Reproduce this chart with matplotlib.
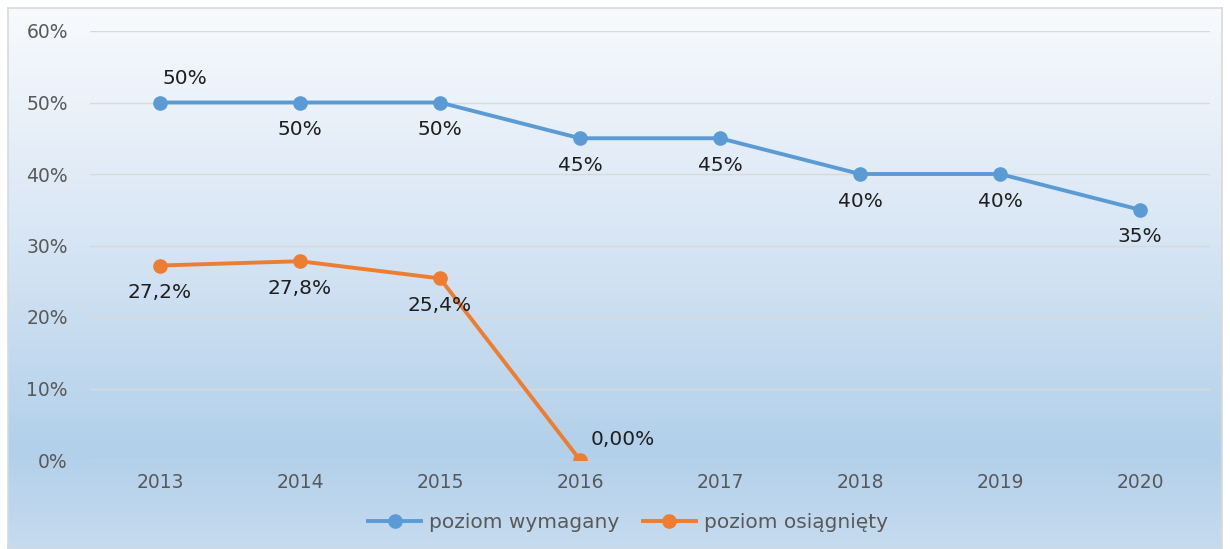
import numpy as np
import matplotlib
matplotlib.use("Agg")
import matplotlib.pyplot as plt
from matplotlib.colors import LinearSegmentedColormap
from matplotlib.ticker import FuncFormatter

years = ["2013", "2014", "2015", "2016", "2017", "2018", "2019", "2020"]
wymagany = [50, 50, 50, 45, 45, 40, 40, 35]
osiagniety = [27.2, 27.8, 25.4, 0.0]
wym_labels = ["50%", "50%", "50%", "45%", "45%", "40%", "40%", "35%"]
osi_labels = ["27,2%", "27,8%", "25,4%", "0,00%"]

blue = "#5b9bd5"
orange = "#ed7d31"
tick_col = "#595959"
lab_col = "#1f1f1f"

W, H = 1230, 549
fig = plt.figure(figsize=(W / 100, H / 100), dpi=100)
fig.patch.set_facecolor("white")

# gradient background panel
bg = fig.add_axes([8 / W, 0, 1214 / W, 541 / H])
cmap = LinearSegmentedColormap.from_list(
    "bg", [(0, "#c6dbef"), (0.18, "#b2d0ea"), (0.6, "#dae7f5"), (1, "#f8fafd")])
grad = np.linspace(0, 1, 256).reshape(-1, 1)
bg.imshow(grad, aspect="auto", cmap=cmap, origin="lower", extent=[0, 1, 0, 1])
bg.set_xlim(0, 1)
bg.set_ylim(0, 1)
bg.set_xticks([])
bg.set_yticks([])
for s in bg.spines.values():
    s.set_color("#d9d9d9")
    s.set_linewidth(1.2)

ax = fig.add_axes([90 / W, 1 - 460 / H, 1120 / W, 429 / H])
ax.patch.set_alpha(0)
x = np.arange(len(years))
l1, = ax.plot(x, wymagany, color=blue, lw=2.8, marker="o", ms=9.5,
              label="poziom wymagany", zorder=3)
l2, = ax.plot(x[:len(osiagniety)], osiagniety, color=orange, lw=2.8, marker="o",
              ms=9.5, label="poziom osiągnięty", zorder=3)

ax.set_xlim(-0.5, len(years) - 0.5)
ax.set_ylim(0, 60)
ax.set_yticks(range(0, 61, 10))
ax.yaxis.set_major_formatter(FuncFormatter(lambda v, p: f"{v:.0f}%"))
ax.set_xticks(x)
ax.set_xticklabels(years)
ax.tick_params(axis="both", length=0, labelsize=13.5, colors=tick_col)
ax.tick_params(axis="y", pad=16)
ax.tick_params(axis="x", pad=9)
ax.grid(axis="y", color="#d9d9d9", lw=1)
ax.set_axisbelow(True)
for s in ax.spines.values():
    s.set_visible(False)

# data labels
for i, (v, t) in enumerate(zip(wymagany, wym_labels)):
    off = (18, 17) if i == 0 else (0, -19.5)
    ax.annotate(t, (i, v), xytext=off, textcoords="offset points",
                ha="center", va="center", fontsize=14.5, color=lab_col)
for i, (v, t) in enumerate(zip(osiagniety, osi_labels)):
    off = (31, 14.5) if v == 0 else (0, -19.5)
    ax.annotate(t, (i, v), xytext=off, textcoords="offset points",
                ha="center", va="center", fontsize=14.5, color=lab_col)

fig.legend(handles=[l1, l2], loc="center", bbox_to_anchor=(628 / W, 1 - 523 / H),
           ncol=2, frameon=False, fontsize=14.5, handlelength=2.6, columnspacing=1.2,
           labelcolor=tick_col, handletextpad=0.4)

fig.savefig("out.png", dpi=100)
